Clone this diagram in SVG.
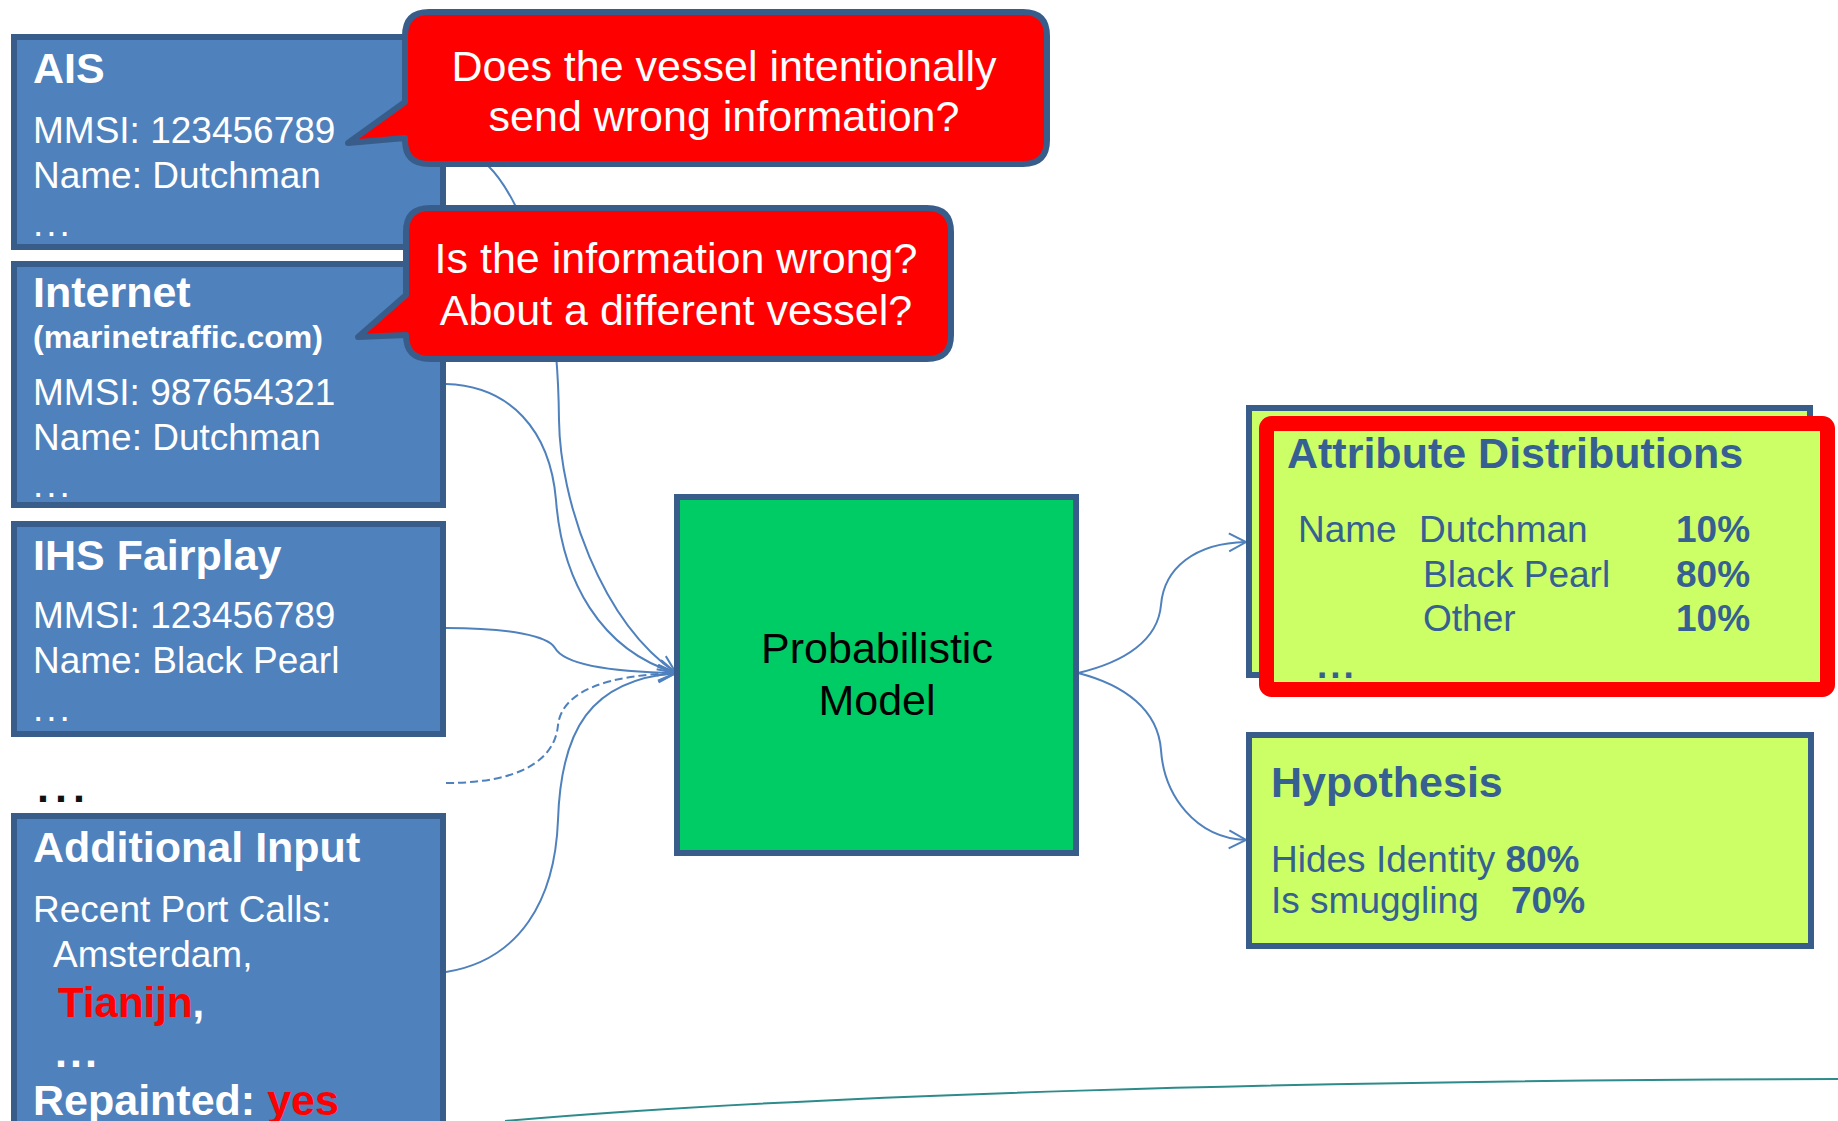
<svg xmlns="http://www.w3.org/2000/svg" width="1838" height="1121" viewBox="0 0 1838 1121">
  <style>
    text { font-family: "Liberation Sans", Arial, sans-serif; }
    .src { fill: #4F81BD; stroke: #385D8A; stroke-width: 6; }
    .w { fill: #FFFFFF; font-size: 37px; }
    .wt { fill: #FFFFFF; font-size: 43px; font-weight: bold; }
    .red { fill: #FF0000; }
    .bubble { fill: #FF0000; stroke: #385D8A; stroke-width: 6; stroke-linejoin: round; }
    .bt { fill: #FFFFFF; font-size: 43px; text-anchor: middle; }
    .out { fill: #CCFF66; stroke: #385D8A; stroke-width: 6; }
    .ot { fill: #376092; font-size: 37px; }
    .oh { fill: #376092; font-size: 43px; font-weight: bold; }
    .link { fill: none; stroke: #4F81BD; stroke-width: 2; }
    .dots { letter-spacing: 3px; }
  </style>
  <defs>
    <marker id="arrowIn" markerUnits="userSpaceOnUse" markerWidth="22" markerHeight="22" refX="19" refY="9" orient="auto">
      <path d="M1,1 L19,9 L1,17" fill="none" stroke="#4F81BD" stroke-width="2"/>
    </marker>
    <marker id="arrowOut" markerUnits="userSpaceOnUse" markerWidth="22" markerHeight="22" refX="18" refY="10" orient="auto">
      <path d="M1,1 L18,10 L1,19" fill="none" stroke="#4F81BD" stroke-width="2"/>
    </marker>
  </defs>

  <rect width="1838" height="1121" fill="#FFFFFF"/>

  <!-- connectors -->
  <g id="connectors">
    <path class="link" d="M446,142 C480,150 500,175 515,205 C545,265 558,320 559,420 C560,500 600,620 676,673" marker-end="url(#arrowIn)"/>
    <path class="link" d="M446,384 C510,386 550,430 556,500 C562,580 600,650 676,673" marker-end="url(#arrowIn)"/>
    <path class="link" d="M446,628 C510,628 548,636 555,648 C565,666 620,672 676,673" marker-end="url(#arrowIn)"/>
    <path class="link" d="M446,783 C520,783 555,760 558,725 C562,690 610,675 676,673" stroke-dasharray="8,4" marker-end="url(#arrowIn)"/>
    <path class="link" d="M446,972 C520,960 555,900 558,820 C561,730 590,680 676,673" marker-end="url(#arrowIn)"/>
    <path class="link" d="M1078,673 C1125,662 1158,640 1161,605 C1164,568 1195,543 1246,542" marker-end="url(#arrowOut)"/>
    <path class="link" d="M1078,673 C1125,685 1158,710 1161,750 C1164,795 1195,838 1246,840" marker-end="url(#arrowOut)"/>
    <path d="M505,1121 C800,1095 1300,1080 1838,1079" fill="none" stroke="#2E8B8B" stroke-width="2"/>
  </g>

  <!-- source: AIS -->
  <g id="ais">
    <rect class="src" x="14" y="37" width="429" height="210"/>
    <text class="wt" x="33" y="83" font-size="42">AIS</text>
    <text class="w" x="33" y="143">MMSI: 123456789</text>
    <text class="w" x="33" y="188">Name: Dutchman</text>
    <text class="w dots" x="33" y="236">...</text>
  </g>

  <!-- source: Internet -->
  <g id="internet">
    <rect class="src" x="14" y="264" width="429" height="241"/>
    <text class="wt" x="33" y="307">Internet</text>
    <text class="wt" x="33" y="348" style="font-size:32px">(marinetraffic.com)</text>
    <text class="w" x="33" y="405">MMSI: 987654321</text>
    <text class="w" x="33" y="450">Name: Dutchman</text>
    <text class="w dots" x="33" y="497">...</text>
  </g>

  <!-- source: IHS Fairplay -->
  <g id="ihs">
    <rect class="src" x="14" y="524" width="429" height="210"/>
    <text class="wt" x="33" y="570">IHS Fairplay</text>
    <text class="w" x="33" y="628">MMSI: 123456789</text>
    <text class="w" x="33" y="673">Name: Black Pearl</text>
    <text class="w dots" x="33" y="721">...</text>
  </g>

  <!-- further sources -->
  <g id="more-sources">
    <text x="37" y="802" font-size="43" font-weight="bold" fill="#111111" letter-spacing="6">...</text>
  </g>

  <!-- source: additional input -->
  <g id="additional">
    <rect class="src" x="14" y="816" width="429" height="400"/>
    <text class="wt" x="33" y="862">Additional Input</text>
    <text class="w" x="33" y="922">Recent Port Calls:</text>
    <text class="w" x="53" y="967">Amsterdam,</text>
    <text class="wt" x="58" y="1017" style="font-size:42px"><tspan class="red">Tianijn</tspan>,</text>
    <text class="wt dots" x="55" y="1067">...</text>
    <text class="wt" x="33" y="1115">Repainted: <tspan class="red">yes</tspan></text>
  </g>

  <!-- question bubbles -->
  <g id="question-ais">
    <path class="bubble" d="M429,12 H1023 Q1047,12 1047,36 V140 Q1047,164 1023,164 H429 Q405,164 405,140 V138 L348,143 L405,102 V36 Q405,12 429,12 Z"/>
    <text class="bt" x="724" y="81">Does the vessel intentionally</text>
    <text class="bt" x="724" y="131">send wrong information?</text>
  </g>

  <g id="question-internet">
    <path class="bubble" d="M430,208 H927 Q951,208 951,232 V335 Q951,359 927,359 H430 Q406,359 406,335 L358,337 L406,295 V232 Q406,208 430,208 Z"/>
    <text class="bt" x="676" y="273">Is the information wrong?</text>
    <text class="bt" x="676" y="325">About a different vessel?</text>
  </g>

  <!-- model -->
  <g id="model">
    <rect x="677" y="497" width="399" height="356" fill="#00CC66" stroke="#385D8A" stroke-width="6"/>
    <text x="877" y="663" font-size="43" text-anchor="middle" fill="#000000">Probabilistic</text>
    <text x="877" y="715" font-size="43" text-anchor="middle" fill="#000000">Model</text>
  </g>

  <!-- output: attribute distributions -->
  <g id="attributes">
    <rect class="out" x="1249" y="408" width="561" height="267"/>
    <rect x="1266.5" y="423.5" width="561" height="266" rx="5" fill="#CCFF66" stroke="#FF0000" stroke-width="15"/>
    <text class="oh" x="1287" y="468">Attribute Distributions</text>
    <text class="ot" x="1298" y="542">Name</text>
    <text class="ot" x="1419" y="542">Dutchman</text>
    <text class="ot" x="1676" y="542" font-weight="bold">10%</text>
    <text class="ot" x="1423" y="587">Black Pearl</text>
    <text class="ot" x="1676" y="587" font-weight="bold">80%</text>
    <text class="ot" x="1423" y="631">Other</text>
    <text class="ot" x="1676" y="631" font-weight="bold">10%</text>
    <text class="ot dots" x="1317" y="678" font-weight="bold">...</text>
  </g>

  <!-- output: hypothesis -->
  <g id="hypothesis">
    <rect class="out" x="1249" y="735" width="562" height="211"/>
    <text class="oh" x="1271" y="797">Hypothesis</text>
    <text class="ot" x="1271" y="872">Hides Identity <tspan font-weight="bold">80%</tspan></text>
    <text class="ot" x="1271" y="913">Is smuggling <tspan x="1511" font-weight="bold">70%</tspan></text>
  </g>
</svg>
